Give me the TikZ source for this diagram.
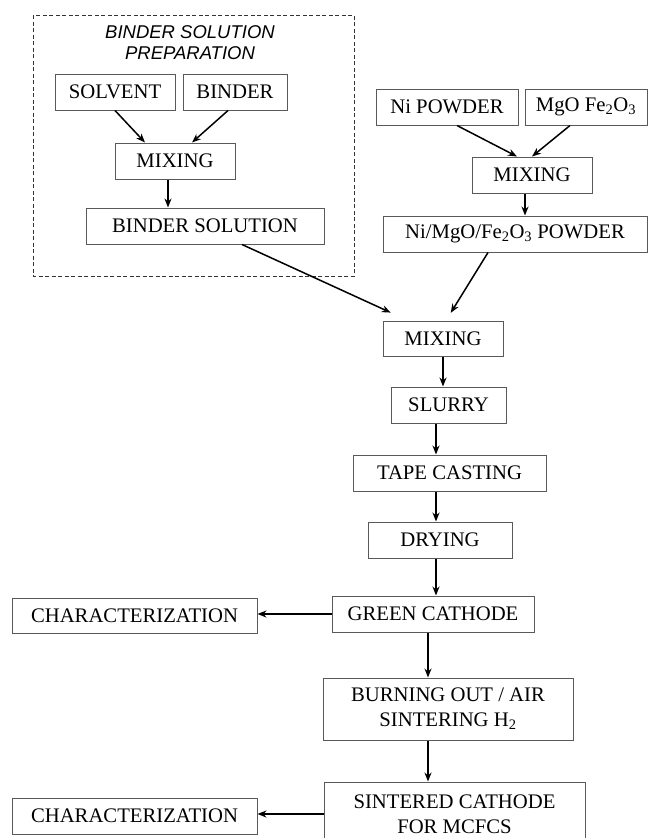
\documentclass[tikz,border=0pt]{standalone}
\usepackage{fontspec}
\setmainfont{Liberation Serif}
\newfontfamily\titlefont{Liberation Sans}
\usetikzlibrary{arrows.meta}

\tikzset{
  stepbox/.style={draw=black!65, line width=1pt, inner sep=0pt, align=center,
    minimum height=36pt, font=\fontsize{20.7}{25}\selectfont},
  arr/.style={draw=black, line width=1.5pt, -{Stealth[length=9pt,width=7pt]}},
}

\begin{document}
\begin{tikzpicture}[x=1pt,y=1pt,yscale=-1,xscale=1]
\useasboundingbox (0,0) rectangle (649,838);

% binder solution preparation
\draw [black!80, line width=1pt, dash pattern={on 4pt off 2.5pt}] (33,15) rectangle (354,276);
\node (title) [align=center, font=\titlefont\itshape\fontsize{18.5}{21}\selectfont] at (190,42.5) {BINDER SOLUTION\\PREPARATION};

\node (solvent) [stepbox, minimum width=120pt] at (115,92) {SOLVENT};
\node (binder) [stepbox, minimum width=104pt] at (235,92) {BINDER};
\node (mixA) [stepbox, minimum width=120pt] at (175,161) {MIXING};
\node (bsol) [stepbox, minimum width=238pt] at (205,226) {BINDER SOLUTION};

% powders
\node (nipow) [stepbox, minimum width=142pt] at (447,107) {Ni POWDER};
\node (mgo) [stepbox, minimum width=122pt] at (586,107) {MgO Fe\textsubscript{2}O\textsubscript{3}};
\node (mixB) [stepbox, minimum width=120pt] at (532,175) {MIXING};
\node (powder) [stepbox, minimum width=264pt] at (515,234) {Ni/MgO/Fe\textsubscript{2}O\textsubscript{3} POWDER};

% main line
\node (mixC) [stepbox, minimum width=120pt, minimum height=35pt] at (443,338.5) {MIXING};
\node (slurry) [stepbox, minimum width=115pt] at (448.5,405) {SLURRY};
\node (tape) [stepbox, minimum width=193pt] at (449.5,473) {TAPE CASTING};
\node (drying) [stepbox, minimum width=144pt] at (440,540) {DRYING};
\node (green) [stepbox, minimum width=202pt] at (433,614) {GREEN CATHODE};
\node (burn) [stepbox, minimum width=250pt, minimum height=62pt] at (448,709) {BURNING OUT / AIR\\SINTERING H\textsubscript{2}};
\node (sinter) [stepbox, minimum width=261pt, minimum height=64pt] at (454.5,814) {SINTERED CATHODE\\FOR MCFCS};

\node (charA) [stepbox, minimum width=245pt, minimum height=35pt] at (134.5,615.5) {CHARACTERIZATION};
\node (charB) [stepbox, minimum width=245pt] at (134.5,816) {CHARACTERIZATION};

% connectors
\draw [arr] (solvent.south) -- ([xshift=-30pt]mixA.north);
\draw [arr] ([xshift=-7pt]binder.south) -- ([xshift=17pt]mixA.north);
\draw [arr] ([xshift=-7pt]mixA.south) -- ([xshift=-7pt]mixA.south |- bsol.north);

\draw [arr] ([xshift=10pt]nipow.south) -- ([xshift=-15pt]mixB.north);
\draw [arr] ([xshift=-16pt]mgo.south) -- (mixB.north);
\draw [arr] ([xshift=-7pt]mixB.south) -- ([xshift=-7pt]mixB.south |- powder.north);

\draw [arr, shorten >=19pt] ([xshift=37pt]bsol.south) -- ([xshift=-35pt]mixC.north);
\draw [arr, shorten >=9pt] ([xshift=-27pt]powder.south) -- ([xshift=3pt]mixC.north);

\draw [arr] (mixC.south) -- (mixC.south |- slurry.north);
\draw [arr] ([xshift=-12.5pt]slurry.south) -- ([xshift=-12.5pt]slurry.south |- tape.north);
\draw [arr] ([xshift=-13.5pt]tape.south) -- ([xshift=-13.5pt]tape.south |- drying.north);
\draw [arr] ([xshift=-4pt]drying.south) -- ([xshift=-4pt]drying.south |- green.north);
\draw [arr] ([xshift=-5pt]green.south) -- ([xshift=-5pt]green.south |- burn.north);
\draw [arr] ([xshift=-20pt]burn.south) -- ([xshift=-20pt]burn.south |- sinter.north);

\draw [arr] (green.west) -- (green.west -| charA.east);
\draw [arr] (sinter.west) -- (sinter.west -| charB.east);

\end{tikzpicture}
\end{document}
